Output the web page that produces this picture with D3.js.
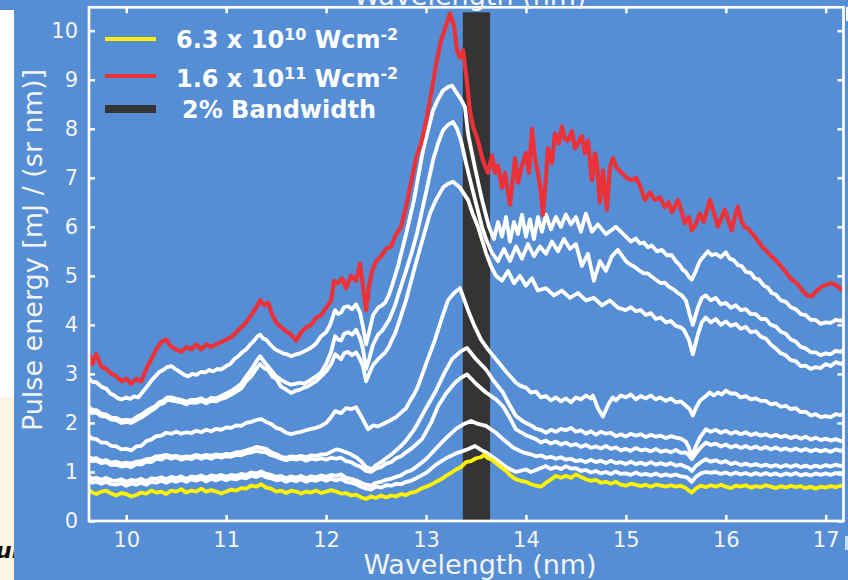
<!DOCTYPE html>
<html>
<head>
<meta charset="utf-8">
<script src="https://cdn.jsdelivr.net/npm/d3@7"></script>
<style>
  html, body { margin: 0; padding: 0; background: #558ED5; }
  svg { display: block; }
</style>
</head>
<body>
<svg id="chart" width="848" height="580"></svg>
<script>
// Harmonic spectra: [wavelength (nm), pulse energy mJ/(sr nm)]

// Lowest drive intensity, 6.3 x 10^10 W/cm^2
const spectrumLow = [[9.62,0.64],[9.66,0.58],[9.7,0.55],[9.75,0.6],[9.8,0.62],[9.85,0.56],[9.9,0.52],[9.95,0.57],[10.0,0.55],[10.05,0.5],[10.1,0.53],[10.15,0.58],[10.2,0.56],[10.25,0.62],[10.3,0.58],[10.35,0.6],[10.4,0.55],[10.45,0.62],[10.5,0.6],[10.55,0.65],[10.6,0.58],[10.65,0.62],[10.7,0.6],[10.75,0.66],[10.8,0.6],[10.85,0.63],[10.9,0.6],[10.95,0.56],[11.0,0.6],[11.05,0.64],[11.1,0.62],[11.15,0.67],[11.2,0.66],[11.25,0.72],[11.3,0.7],[11.35,0.75],[11.4,0.68],[11.45,0.66],[11.5,0.6],[11.55,0.62],[11.6,0.57],[11.65,0.62],[11.7,0.6],[11.75,0.56],[11.8,0.6],[11.85,0.58],[11.9,0.62],[11.95,0.57],[12.0,0.6],[12.05,0.63],[12.1,0.6],[12.15,0.56],[12.2,0.57],[12.25,0.52],[12.3,0.54],[12.35,0.48],[12.4,0.45],[12.45,0.5],[12.5,0.47],[12.55,0.52],[12.6,0.48],[12.65,0.52],[12.7,0.5],[12.75,0.55],[12.8,0.53],[12.85,0.58],[12.9,0.6],[12.95,0.66],[13.0,0.7],[13.05,0.74],[13.1,0.8],[13.15,0.85],[13.2,0.92],[13.25,0.98],[13.3,1.05],[13.35,1.1],[13.4,1.2],[13.45,1.22],[13.5,1.28],[13.55,1.3],[13.58,1.35],[13.62,1.28],[13.66,1.25],[13.7,1.18],[13.75,1.1],[13.8,1.02],[13.85,0.92],[13.9,0.85],[13.95,0.82],[14.0,0.8],[14.05,0.75],[14.1,0.72],[14.15,0.7],[14.2,0.78],[14.25,0.85],[14.3,0.92],[14.35,0.88],[14.4,0.92],[14.45,0.88],[14.5,0.95],[14.55,0.9],[14.6,0.85],[14.65,0.82],[14.7,0.84],[14.75,0.78],[14.8,0.8],[14.85,0.76],[14.9,0.8],[14.95,0.74],[15.0,0.72],[15.05,0.76],[15.1,0.74],[15.15,0.71],[15.2,0.74],[15.25,0.7],[15.3,0.74],[15.35,0.72],[15.4,0.7],[15.45,0.73],[15.5,0.7],[15.55,0.72],[15.6,0.67],[15.63,0.62],[15.66,0.58],[15.7,0.66],[15.75,0.72],[15.8,0.69],[15.85,0.73],[15.9,0.7],[15.95,0.74],[16.0,0.7],[16.05,0.67],[16.1,0.72],[16.15,0.7],[16.2,0.73],[16.25,0.68],[16.3,0.71],[16.35,0.69],[16.4,0.73],[16.45,0.7],[16.5,0.67],[16.55,0.71],[16.6,0.68],[16.65,0.72],[16.7,0.69],[16.75,0.71],[16.8,0.67],[16.85,0.7],[16.9,0.66],[16.95,0.7],[17.0,0.68],[17.05,0.71],[17.1,0.69],[17.15,0.72],[17.2,0.71]];

// Intermediate intensities, lowest first
const white1 = [[9.62,0.84],[9.66,0.78],[9.7,0.8],[9.75,0.76],[9.8,0.8],[9.85,0.75],[9.9,0.74],[9.95,0.77],[10.0,0.72],[10.05,0.76],[10.1,0.74],[10.15,0.78],[10.2,0.74],[10.25,0.8],[10.3,0.78],[10.35,0.82],[10.4,0.78],[10.45,0.83],[10.5,0.8],[10.55,0.84],[10.6,0.8],[10.65,0.85],[10.7,0.82],[10.75,0.86],[10.8,0.81],[10.85,0.86],[10.9,0.83],[10.95,0.87],[11.0,0.83],[11.05,0.87],[11.1,0.85],[11.15,0.89],[11.2,0.87],[11.25,0.92],[11.3,0.9],[11.35,0.94],[11.4,0.89],[11.45,0.87],[11.5,0.83],[11.55,0.85],[11.6,0.8],[11.65,0.84],[11.7,0.81],[11.75,0.85],[11.8,0.8],[11.85,0.84],[11.9,0.82],[11.95,0.86],[12.0,0.82],[12.05,0.86],[12.1,0.83],[12.15,0.86],[12.2,0.8],[12.25,0.78],[12.3,0.75],[12.35,0.7],[12.4,0.66],[12.45,0.64],[12.5,0.7],[12.55,0.68],[12.6,0.73],[12.65,0.72],[12.7,0.76],[12.75,0.75],[12.8,0.8],[12.85,0.82],[12.9,0.87],[13.0,0.98],[13.1,1.15],[13.2,1.28],[13.3,1.38],[13.4,1.45],[13.49,1.53],[13.55,1.45],[13.6,1.4],[13.7,1.26],[13.8,1.1],[13.9,1.0],[14.0,1.05],[14.05,1.0],[14.1,1.04],[14.15,1.08],[14.2,1.12],[14.25,1.06],[14.3,1.1],[14.35,1.06],[14.4,1.12],[14.45,1.07],[14.5,1.08],[14.55,1.02],[14.6,1.04],[14.65,0.99],[14.7,1.02],[14.75,0.97],[14.8,1.0],[14.85,0.96],[14.9,1.01],[14.95,0.96],[15.0,0.97],[15.05,0.94],[15.1,0.99],[15.15,0.94],[15.2,0.96],[15.25,0.93],[15.3,0.97],[15.35,0.92],[15.4,0.95],[15.45,0.92],[15.5,0.95],[15.55,0.91],[15.6,0.9],[15.63,0.86],[15.66,0.8],[15.7,0.9],[15.75,0.97],[15.8,1.0],[15.85,0.98],[15.9,1.0],[15.95,0.96],[16.0,0.99],[16.05,0.95],[16.1,0.99],[16.15,0.95],[16.2,0.98],[16.25,0.94],[16.3,0.98],[16.35,0.94],[16.4,0.98],[16.45,0.94],[16.5,0.97],[16.55,0.93],[16.6,0.97],[16.65,0.94],[16.7,0.98],[16.75,0.93],[16.8,0.96],[16.85,0.93],[16.9,0.97],[16.95,0.94],[17.0,0.97],[17.05,0.94],[17.1,0.98],[17.15,0.95],[17.2,0.99]];
const white2 = [[9.62,0.92],[9.66,0.86],[9.7,0.88],[9.75,0.84],[9.8,0.88],[9.85,0.83],[9.9,0.82],[9.95,0.85],[10.0,0.8],[10.05,0.84],[10.1,0.82],[10.15,0.86],[10.2,0.81],[10.25,0.87],[10.3,0.86],[10.35,0.89],[10.4,0.85],[10.45,0.9],[10.5,0.87],[10.55,0.91],[10.6,0.86],[10.65,0.91],[10.7,0.89],[10.75,0.93],[10.8,0.88],[10.85,0.93],[10.9,0.91],[10.95,0.94],[11.0,0.9],[11.05,0.94],[11.1,0.92],[11.15,0.96],[11.2,0.94],[11.25,0.99],[11.3,0.97],[11.35,1.01],[11.4,0.96],[11.45,0.94],[11.5,0.9],[11.55,0.92],[11.6,0.87],[11.65,0.91],[11.7,0.88],[11.75,0.92],[11.8,0.87],[11.85,0.91],[11.9,0.89],[11.95,0.93],[12.0,0.9],[12.05,0.94],[12.1,0.92],[12.15,0.95],[12.2,0.88],[12.25,0.86],[12.3,0.83],[12.35,0.78],[12.4,0.74],[12.45,0.72],[12.5,0.78],[12.55,0.8],[12.6,0.84],[12.65,0.86],[12.7,0.9],[12.75,0.93],[12.8,1.0],[12.85,1.03],[12.9,1.1],[13.0,1.26],[13.1,1.48],[13.19,1.67],[13.3,1.88],[13.38,1.98],[13.45,2.04],[13.52,1.98],[13.6,1.94],[13.7,1.8],[13.77,1.67],[13.87,1.5],[13.97,1.4],[14.05,1.36],[14.1,1.32],[14.15,1.34],[14.2,1.29],[14.25,1.31],[14.3,1.27],[14.35,1.3],[14.4,1.25],[14.45,1.27],[14.5,1.22],[14.55,1.24],[14.6,1.2],[14.65,1.25],[14.7,1.2],[14.75,1.23],[14.8,1.18],[14.85,1.23],[14.9,1.18],[14.95,1.2],[15.0,1.16],[15.05,1.21],[15.1,1.16],[15.15,1.19],[15.2,1.15],[15.25,1.2],[15.3,1.15],[15.35,1.18],[15.4,1.14],[15.45,1.18],[15.5,1.13],[15.55,1.15],[15.6,1.1],[15.63,1.08],[15.66,1.02],[15.7,1.12],[15.75,1.2],[15.8,1.26],[15.85,1.21],[15.9,1.24],[15.95,1.19],[16.0,1.22],[16.05,1.16],[16.1,1.19],[16.15,1.14],[16.2,1.17],[16.25,1.13],[16.3,1.16],[16.35,1.12],[16.4,1.15],[16.45,1.11],[16.5,1.14],[16.55,1.1],[16.6,1.14],[16.65,1.1],[16.7,1.14],[16.75,1.1],[16.8,1.13],[16.85,1.09],[16.9,1.13],[16.95,1.1],[17.0,1.14],[17.05,1.11],[17.1,1.15],[17.15,1.12],[17.2,1.16]];
const white3 = [[9.62,1.28],[9.66,1.22],[9.7,1.23],[9.75,1.18],[9.8,1.2],[9.85,1.14],[9.9,1.15],[9.95,1.11],[10.0,1.13],[10.05,1.1],[10.1,1.16],[10.15,1.15],[10.2,1.21],[10.25,1.2],[10.3,1.27],[10.35,1.25],[10.4,1.31],[10.45,1.27],[10.5,1.3],[10.55,1.25],[10.6,1.28],[10.65,1.26],[10.7,1.31],[10.75,1.27],[10.8,1.3],[10.85,1.27],[10.9,1.32],[10.95,1.29],[11.0,1.32],[11.05,1.31],[11.1,1.35],[11.15,1.34],[11.2,1.38],[11.25,1.4],[11.3,1.43],[11.35,1.41],[11.4,1.4],[11.45,1.34],[11.5,1.31],[11.55,1.27],[11.6,1.24],[11.65,1.27],[11.7,1.25],[11.75,1.28],[11.8,1.23],[11.85,1.27],[11.9,1.25],[11.95,1.28],[12.0,1.25],[12.05,1.29],[12.1,1.27],[12.15,1.29],[12.2,1.22],[12.25,1.2],[12.3,1.14],[12.35,1.1],[12.4,1.02],[12.45,1.0],[12.5,1.07],[12.55,1.1],[12.6,1.17],[12.65,1.2],[12.7,1.28],[12.75,1.32],[12.8,1.4],[12.85,1.47],[12.9,1.56],[12.96,1.67],[13.05,2.0],[13.12,2.34],[13.2,2.6],[13.29,2.82],[13.35,2.92],[13.41,2.99],[13.5,2.8],[13.6,2.62],[13.7,2.48],[13.77,2.34],[13.84,2.1],[13.9,1.87],[14.0,1.75],[14.1,1.67],[14.15,1.6],[14.2,1.64],[14.25,1.58],[14.3,1.62],[14.35,1.56],[14.4,1.6],[14.45,1.54],[14.5,1.57],[14.55,1.51],[14.6,1.55],[14.65,1.49],[14.7,1.52],[14.75,1.48],[14.8,1.53],[14.85,1.47],[14.9,1.5],[14.95,1.44],[15.0,1.47],[15.05,1.43],[15.1,1.49],[15.15,1.44],[15.2,1.46],[15.25,1.42],[15.3,1.47],[15.35,1.41],[15.4,1.44],[15.45,1.4],[15.5,1.45],[15.55,1.39],[15.6,1.4],[15.63,1.34],[15.66,1.26],[15.7,1.38],[15.75,1.5],[15.8,1.6],[15.85,1.55],[15.9,1.58],[15.95,1.52],[16.0,1.56],[16.05,1.5],[16.1,1.54],[16.15,1.49],[16.2,1.53],[16.25,1.48],[16.3,1.52],[16.35,1.47],[16.4,1.51],[16.45,1.46],[16.5,1.5],[16.55,1.45],[16.6,1.48],[16.65,1.44],[16.7,1.48],[16.75,1.43],[16.8,1.47],[16.85,1.42],[16.9,1.46],[16.95,1.42],[17.0,1.45],[17.05,1.41],[17.1,1.46],[17.15,1.43],[17.2,1.47]];
const white4 = [[9.62,1.31],[9.66,1.27],[9.7,1.28],[9.75,1.22],[9.8,1.24],[9.85,1.19],[9.9,1.21],[9.95,1.17],[10.0,1.19],[10.05,1.17],[10.1,1.21],[10.15,1.22],[10.2,1.26],[10.25,1.27],[10.3,1.32],[10.35,1.33],[10.4,1.35],[10.45,1.32],[10.5,1.33],[10.55,1.3],[10.6,1.32],[10.65,1.31],[10.7,1.35],[10.75,1.32],[10.8,1.35],[10.85,1.33],[10.9,1.36],[10.95,1.34],[11.0,1.37],[11.05,1.36],[11.1,1.4],[11.15,1.41],[11.2,1.44],[11.25,1.47],[11.3,1.51],[11.35,1.49],[11.4,1.47],[11.45,1.4],[11.5,1.36],[11.55,1.31],[11.6,1.29],[11.65,1.32],[11.7,1.31],[11.75,1.33],[11.8,1.3],[11.85,1.34],[11.9,1.33],[11.95,1.36],[12.0,1.36],[12.05,1.41],[12.1,1.46],[12.15,1.44],[12.2,1.4],[12.25,1.36],[12.3,1.3],[12.35,1.22],[12.4,1.1],[12.46,1.06],[12.5,1.14],[12.55,1.2],[12.6,1.28],[12.65,1.35],[12.7,1.44],[12.75,1.53],[12.8,1.64],[12.84,1.75],[12.88,1.86],[12.92,2.0],[13.0,2.3],[13.09,2.62],[13.18,3.0],[13.26,3.3],[13.34,3.45],[13.41,3.53],[13.5,3.3],[13.6,3.09],[13.68,2.85],[13.77,2.62],[13.84,2.35],[13.9,2.14],[13.98,2.02],[14.06,1.94],[14.1,1.88],[14.15,1.86],[14.2,1.8],[14.25,1.86],[14.3,1.82],[14.35,1.88],[14.4,1.85],[14.45,1.9],[14.5,1.82],[14.55,1.85],[14.6,1.78],[14.65,1.83],[14.7,1.76],[14.75,1.82],[14.8,1.78],[14.85,1.8],[14.9,1.73],[14.95,1.77],[15.0,1.72],[15.05,1.78],[15.1,1.74],[15.15,1.77],[15.2,1.71],[15.25,1.76],[15.3,1.72],[15.35,1.74],[15.4,1.69],[15.45,1.73],[15.5,1.7],[15.55,1.68],[15.6,1.62],[15.63,1.5],[15.66,1.32],[15.7,1.52],[15.74,1.7],[15.8,1.87],[15.85,1.82],[15.9,1.86],[15.95,1.8],[16.0,1.84],[16.05,1.78],[16.1,1.82],[16.15,1.77],[16.2,1.81],[16.25,1.75],[16.3,1.79],[16.35,1.74],[16.4,1.77],[16.45,1.72],[16.5,1.76],[16.55,1.71],[16.6,1.74],[16.65,1.69],[16.7,1.73],[16.75,1.68],[16.8,1.72],[16.85,1.66],[16.9,1.7],[16.95,1.65],[17.0,1.68],[17.05,1.64],[17.1,1.67],[17.15,1.63],[17.2,1.66]];
const white5 = [[9.62,1.74],[9.66,1.68],[9.7,1.67],[9.75,1.6],[9.8,1.6],[9.85,1.53],[9.9,1.52],[9.95,1.46],[10.0,1.47],[10.05,1.44],[10.1,1.52],[10.15,1.53],[10.2,1.63],[10.25,1.66],[10.3,1.73],[10.35,1.74],[10.4,1.8],[10.45,1.78],[10.5,1.82],[10.55,1.78],[10.6,1.81],[10.65,1.79],[10.7,1.84],[10.75,1.81],[10.8,1.86],[10.85,1.83],[10.9,1.88],[10.95,1.86],[11.0,1.91],[11.05,1.9],[11.1,1.95],[11.15,1.94],[11.2,2.0],[11.25,2.02],[11.3,2.06],[11.35,2.08],[11.4,2.02],[11.45,1.98],[11.5,1.9],[11.55,1.87],[11.6,1.8],[11.65,1.77],[11.7,1.8],[11.75,1.82],[11.8,1.85],[11.85,1.88],[11.9,1.9],[11.95,1.94],[12.0,2.0],[12.05,2.12],[12.09,2.24],[12.15,2.2],[12.2,2.3],[12.25,2.28],[12.3,2.32],[12.36,2.1],[12.42,1.87],[12.47,1.95],[12.52,1.93],[12.59,2.0],[12.64,2.05],[12.7,2.12],[12.75,2.21],[12.8,2.3],[12.84,2.45],[12.88,2.58],[12.92,2.75],[13.0,3.2],[13.09,3.7],[13.16,4.15],[13.22,4.5],[13.28,4.65],[13.34,4.75],[13.42,4.3],[13.48,4.0],[13.55,3.7],[13.62,3.5],[13.7,3.3],[13.8,3.05],[13.9,2.82],[13.95,2.75],[14.0,2.72],[14.05,2.62],[14.1,2.64],[14.15,2.52],[14.2,2.55],[14.25,2.46],[14.3,2.52],[14.35,2.44],[14.4,2.5],[14.45,2.42],[14.5,2.52],[14.55,2.48],[14.6,2.56],[14.65,2.5],[14.67,2.56],[14.72,2.3],[14.77,2.13],[14.83,2.4],[14.87,2.52],[14.9,2.46],[14.95,2.56],[15.0,2.52],[15.05,2.58],[15.1,2.48],[15.15,2.55],[15.2,2.5],[15.25,2.56],[15.3,2.48],[15.34,2.52],[15.4,2.45],[15.45,2.5],[15.5,2.42],[15.55,2.44],[15.6,2.35],[15.64,2.28],[15.67,2.15],[15.7,2.3],[15.74,2.45],[15.8,2.55],[15.84,2.62],[15.88,2.56],[15.92,2.62],[15.96,2.58],[16.0,2.66],[16.05,2.6],[16.1,2.6],[16.15,2.52],[16.2,2.55],[16.25,2.48],[16.3,2.5],[16.35,2.45],[16.4,2.45],[16.45,2.38],[16.5,2.4],[16.55,2.33],[16.6,2.35],[16.65,2.28],[16.7,2.3],[16.75,2.22],[16.8,2.23],[16.85,2.15],[16.9,2.18],[16.95,2.12],[17.0,2.14],[17.05,2.12],[17.1,2.18],[17.15,2.16],[17.2,2.22]];
const white6 = [[9.62,2.28],[9.66,2.2],[9.7,2.21],[9.75,2.14],[9.8,2.13],[9.85,2.07],[9.9,2.06],[9.95,2.0],[10.0,2.02],[10.05,2.0],[10.12,2.08],[10.16,2.12],[10.2,2.18],[10.25,2.25],[10.29,2.3],[10.33,2.38],[10.37,2.4],[10.41,2.47],[10.45,2.46],[10.5,2.44],[10.55,2.42],[10.6,2.38],[10.65,2.42],[10.7,2.41],[10.75,2.45],[10.8,2.4],[10.85,2.45],[10.9,2.44],[10.95,2.49],[11.0,2.52],[11.05,2.58],[11.1,2.64],[11.15,2.7],[11.2,2.85],[11.25,2.95],[11.3,3.1],[11.34,3.2],[11.38,3.12],[11.42,3.08],[11.46,2.95],[11.5,2.9],[11.55,2.74],[11.6,2.68],[11.65,2.61],[11.7,2.66],[11.74,2.68],[11.78,2.72],[11.82,2.75],[11.86,2.8],[11.9,2.85],[11.95,2.95],[12.0,3.05],[12.05,3.2],[12.09,3.4],[12.12,3.35],[12.15,3.3],[12.18,3.42],[12.22,3.45],[12.26,3.38],[12.3,3.44],[12.34,3.3],[12.37,3.15],[12.4,2.85],[12.43,3.0],[12.47,3.18],[12.52,3.3],[12.56,3.38],[12.59,3.43],[12.63,3.56],[12.66,3.7],[12.69,3.82],[12.72,4.0],[12.8,4.5],[12.88,5.12],[12.96,5.7],[13.04,6.27],[13.1,6.55],[13.17,6.8],[13.22,6.88],[13.27,6.92],[13.34,6.8],[13.42,6.55],[13.47,6.25],[13.52,6.0],[13.6,5.47],[13.65,5.2],[13.7,5.0],[13.76,4.9],[13.82,5.1],[13.88,4.85],[13.94,5.0],[14.0,4.8],[14.06,4.95],[14.12,4.7],[14.2,4.75],[14.28,4.6],[14.36,4.7],[14.44,4.55],[14.52,4.65],[14.6,4.5],[14.68,4.55],[14.76,4.4],[14.84,4.5],[14.92,4.35],[15.0,4.3],[15.05,4.36],[15.1,4.28],[15.15,4.3],[15.2,4.2],[15.25,4.24],[15.3,4.12],[15.35,4.15],[15.4,4.05],[15.45,4.08],[15.5,3.98],[15.55,3.95],[15.58,3.9],[15.63,3.7],[15.67,3.4],[15.72,3.8],[15.76,4.05],[15.8,4.15],[15.85,4.05],[15.9,4.12],[15.95,4.0],[16.0,4.07],[16.05,3.98],[16.1,4.02],[16.15,3.92],[16.2,3.96],[16.25,3.85],[16.3,3.87],[16.35,3.76],[16.4,3.72],[16.45,3.6],[16.5,3.52],[16.55,3.42],[16.6,3.38],[16.65,3.28],[16.7,3.26],[16.75,3.16],[16.8,3.17],[16.85,3.1],[16.9,3.14],[16.95,3.12],[17.0,3.2],[17.05,3.16],[17.1,3.24],[17.15,3.2],[17.2,3.27]];
const white7 = [[9.62,2.34],[9.66,2.26],[9.7,2.26],[9.75,2.19],[9.8,2.17],[9.85,2.11],[9.9,2.1],[9.95,2.05],[10.0,2.06],[10.05,2.05],[10.12,2.14],[10.16,2.18],[10.2,2.24],[10.25,2.3],[10.29,2.34],[10.33,2.42],[10.37,2.45],[10.41,2.52],[10.45,2.52],[10.5,2.49],[10.55,2.47],[10.6,2.43],[10.65,2.47],[10.7,2.47],[10.75,2.5],[10.8,2.45],[10.85,2.51],[10.9,2.5],[10.95,2.55],[11.0,2.6],[11.05,2.65],[11.1,2.72],[11.15,2.8],[11.2,2.95],[11.25,3.08],[11.3,3.25],[11.34,3.36],[11.38,3.25],[11.42,3.15],[11.46,3.05],[11.5,2.95],[11.55,2.88],[11.6,2.82],[11.65,2.78],[11.7,2.8],[11.74,2.82],[11.78,2.8],[11.82,2.85],[11.86,2.9],[11.9,2.95],[11.95,3.03],[12.0,3.2],[12.05,3.45],[12.09,3.77],[12.12,3.7],[12.15,3.68],[12.18,3.82],[12.22,3.85],[12.26,3.8],[12.3,3.9],[12.34,3.72],[12.37,3.5],[12.4,3.1],[12.43,3.3],[12.47,3.6],[12.52,3.8],[12.56,3.88],[12.59,3.97],[12.63,4.1],[12.66,4.25],[12.69,4.4],[12.72,4.6],[12.8,5.1],[12.86,5.5],[12.91,5.87],[13.0,6.7],[13.07,7.36],[13.12,7.7],[13.17,7.97],[13.22,8.08],[13.27,8.14],[13.31,8.0],[13.35,7.76],[13.4,7.3],[13.46,6.8],[13.51,6.4],[13.56,6.0],[13.61,5.7],[13.66,5.47],[13.72,5.3],[13.78,5.55],[13.84,5.3],[13.9,5.6],[13.96,5.35],[14.02,5.65],[14.08,5.4],[14.14,5.6],[14.2,5.45],[14.26,5.7],[14.32,5.5],[14.38,5.75],[14.44,5.55],[14.5,5.65],[14.56,5.2],[14.62,5.45],[14.68,4.9],[14.74,5.3],[14.8,5.1],[14.86,5.4],[14.92,5.53],[15.0,5.3],[15.05,5.22],[15.09,5.18],[15.14,5.1],[15.18,5.05],[15.22,5.05],[15.26,4.98],[15.3,4.92],[15.35,4.85],[15.39,4.86],[15.43,4.78],[15.48,4.72],[15.52,4.65],[15.56,4.6],[15.6,4.5],[15.64,4.2],[15.67,4.0],[15.72,4.35],[15.76,4.55],[15.8,4.6],[15.85,4.5],[15.9,4.55],[15.95,4.42],[16.0,4.45],[16.05,4.35],[16.1,4.4],[16.15,4.3],[16.2,4.32],[16.25,4.22],[16.3,4.22],[16.35,4.12],[16.4,4.12],[16.45,4.0],[16.5,3.97],[16.55,3.86],[16.6,3.82],[16.65,3.7],[16.7,3.66],[16.75,3.55],[16.8,3.52],[16.85,3.44],[16.9,3.44],[16.95,3.38],[17.0,3.42],[17.05,3.4],[17.1,3.47],[17.15,3.45],[17.2,3.52]];
const white8 = [[9.62,2.92],[9.66,2.84],[9.7,2.83],[9.75,2.74],[9.8,2.7],[9.84,2.6],[9.88,2.56],[9.92,2.5],[9.95,2.48],[10.0,2.52],[10.04,2.49],[10.08,2.54],[10.12,2.52],[10.16,2.62],[10.2,2.72],[10.25,2.86],[10.29,2.95],[10.33,3.04],[10.37,3.08],[10.41,3.14],[10.45,3.16],[10.49,3.1],[10.53,3.05],[10.58,2.98],[10.62,2.95],[10.66,3.0],[10.7,2.98],[10.75,3.04],[10.79,3.03],[10.83,3.08],[10.87,3.05],[10.91,3.1],[10.95,3.09],[11.0,3.16],[11.04,3.2],[11.08,3.3],[11.12,3.36],[11.16,3.44],[11.2,3.5],[11.24,3.6],[11.28,3.68],[11.31,3.76],[11.34,3.8],[11.37,3.72],[11.4,3.7],[11.44,3.6],[11.49,3.5],[11.53,3.46],[11.57,3.42],[11.61,3.4],[11.65,3.36],[11.7,3.4],[11.74,3.42],[11.78,3.46],[11.82,3.5],[11.86,3.55],[11.9,3.62],[11.95,3.77],[12.0,3.85],[12.04,4.0],[12.09,4.3],[12.12,4.22],[12.15,4.25],[12.18,4.36],[12.22,4.38],[12.26,4.32],[12.3,4.42],[12.34,4.25],[12.37,3.95],[12.4,3.6],[12.43,3.85],[12.47,4.2],[12.52,4.35],[12.56,4.4],[12.59,4.45],[12.63,4.62],[12.66,4.8],[12.69,5.0],[12.72,5.2],[12.8,5.85],[12.88,6.55],[12.97,7.56],[13.07,8.37],[13.12,8.6],[13.17,8.78],[13.22,8.85],[13.26,8.88],[13.3,8.75],[13.35,8.6],[13.39,8.44],[13.42,7.9],[13.49,7.2],[13.56,6.55],[13.63,6.0],[13.68,5.75],[13.72,6.1],[13.76,5.8],[13.8,6.2],[13.84,5.7],[13.88,6.1],[13.92,5.85],[13.96,6.25],[14.0,5.8],[14.04,6.15],[14.08,5.75],[14.12,6.2],[14.16,5.9],[14.2,6.25],[14.25,5.95],[14.3,6.2],[14.35,6.0],[14.4,6.25],[14.45,6.05],[14.5,6.2],[14.55,5.9],[14.6,6.27],[14.66,5.9],[14.72,6.05],[14.8,5.85],[14.9,6.0],[15.0,5.8],[15.05,5.7],[15.1,5.76],[15.14,5.66],[15.18,5.68],[15.22,5.58],[15.26,5.62],[15.31,5.5],[15.36,5.53],[15.41,5.42],[15.46,5.42],[15.5,5.3],[15.54,5.22],[15.57,5.12],[15.6,5.08],[15.63,4.98],[15.66,4.92],[15.7,5.1],[15.74,5.3],[15.78,5.4],[15.82,5.5],[15.86,5.42],[15.9,5.45],[15.95,5.38],[16.0,5.48],[16.04,5.35],[16.08,5.32],[16.12,5.22],[16.16,5.2],[16.2,5.08],[16.25,5.06],[16.29,4.95],[16.33,4.93],[16.38,4.8],[16.42,4.76],[16.46,4.65],[16.5,4.62],[16.55,4.5],[16.6,4.47],[16.65,4.36],[16.7,4.32],[16.75,4.22],[16.8,4.2],[16.85,4.1],[16.9,4.1],[16.95,4.02],[17.0,4.05],[17.05,4.04],[17.1,4.1],[17.15,4.08],[17.2,4.14]];

// Highest drive intensity, 1.6 x 10^11 W/cm^2
const spectrumHigh = [[9.62,3.45],[9.66,3.2],[9.7,3.4],[9.75,3.15],[9.8,3.1],[9.85,3.0],[9.9,2.95],[9.95,2.85],[10.0,2.9],[10.05,2.8],[10.1,2.9],[10.15,2.85],[10.2,3.1],[10.25,3.3],[10.3,3.5],[10.35,3.65],[10.4,3.7],[10.45,3.55],[10.5,3.5],[10.55,3.45],[10.6,3.55],[10.65,3.5],[10.7,3.6],[10.75,3.5],[10.8,3.6],[10.85,3.55],[10.9,3.6],[10.95,3.65],[11.0,3.7],[11.05,3.75],[11.1,3.85],[11.15,3.95],[11.2,4.05],[11.25,4.2],[11.3,4.35],[11.34,4.5],[11.38,4.4],[11.42,4.45],[11.46,4.2],[11.5,4.05],[11.55,3.95],[11.6,3.87],[11.65,3.8],[11.7,3.68],[11.75,3.85],[11.8,3.95],[11.85,4.0],[11.9,4.15],[11.95,4.2],[12.0,4.35],[12.05,4.5],[12.08,4.9],[12.12,4.85],[12.16,4.95],[12.2,4.75],[12.25,5.0],[12.3,4.9],[12.34,5.25],[12.38,4.6],[12.4,4.3],[12.43,4.8],[12.46,5.1],[12.5,5.3],[12.55,5.4],[12.6,5.55],[12.65,5.6],[12.7,5.85],[12.75,6.0],[12.8,6.4],[12.85,6.9],[12.9,7.4],[12.95,7.7],[13.0,8.15],[13.05,8.7],[13.1,9.3],[13.15,9.8],[13.2,10.1],[13.24,10.35],[13.28,10.1],[13.31,9.6],[13.34,9.45],[13.37,9.6],[13.41,8.95],[13.44,8.35],[13.47,8.05],[13.52,7.75],[13.57,7.35],[13.62,7.1],[13.66,7.45],[13.69,7.1],[13.72,7.25],[13.76,6.8],[13.79,7.1],[13.82,6.7],[13.84,6.45],[13.87,7.0],[13.89,7.4],[13.92,6.9],[13.96,7.25],[14.0,7.5],[14.03,7.1],[14.06,8.0],[14.09,7.4],[14.12,7.1],[14.15,6.7],[14.17,6.25],[14.2,7.0],[14.22,7.6],[14.26,7.3],[14.29,7.9],[14.33,7.7],[14.36,8.05],[14.39,7.8],[14.42,7.75],[14.46,7.95],[14.49,7.6],[14.52,7.7],[14.56,7.85],[14.59,7.5],[14.62,7.75],[14.66,6.95],[14.69,7.5],[14.71,7.3],[14.74,6.5],[14.77,7.15],[14.81,6.35],[14.84,7.2],[14.87,7.4],[14.91,7.2],[14.96,7.1],[15.01,7.0],[15.06,6.95],[15.1,7.0],[15.14,6.85],[15.19,6.55],[15.24,6.7],[15.29,6.55],[15.34,6.6],[15.39,6.4],[15.43,6.5],[15.46,6.3],[15.5,6.45],[15.52,6.55],[15.56,6.3],[15.59,6.07],[15.63,6.2],[15.66,5.93],[15.7,6.05],[15.74,6.27],[15.78,6.1],[15.82,6.4],[15.84,6.55],[15.88,6.3],[15.92,6.0],[15.96,6.2],[15.99,6.35],[16.03,6.1],[16.06,5.93],[16.09,6.2],[16.12,6.41],[16.16,6.1],[16.19,6.0],[16.23,5.95],[16.26,5.87],[16.31,5.75],[16.36,5.6],[16.41,5.5],[16.46,5.39],[16.51,5.3],[16.56,5.18],[16.61,5.05],[16.66,4.92],[16.71,4.85],[16.76,4.72],[16.81,4.6],[16.86,4.58],[16.91,4.7],[16.96,4.78],[17.01,4.82],[17.06,4.85],[17.11,4.8],[17.16,4.72],[17.2,4.75]];

const whiteSpectra = [white1, white2, white3, white4, white5, white6, white7, white8];

// 2 % bandwidth window around 13.5 nm
const bandwidthRange = [13.368, 13.641];
const bandwidthTop = 10.375;

const xTicks = [10, 11, 12, 13, 14, 15, 16, 17];
const yTicks = [0, 1, 2, 3, 4, 5, 6, 7, 8, 9, 10];
const xTitle = "Wavelength (nm)";
const yTitle = "Pulse energy [mJ / (sr nm)]";

const COLORS = { bg: "#558ED5", low: "#FFF200", high: "#EC3238", white: "#FFFFFF", band: "#343434", text: "#F4F4F4" };

const svg = d3.select("#chart");
const frame = { left: 89, right: 843.5, top: 7.3, bottom: 521 };

const x = d3.scaleLinear().domain([9.627, 17.178]).range([frame.left, frame.right]);
const y = d3.scaleLinear().domain([0, 10.477]).range([frame.bottom, frame.top]);

// page background and the edges of neighbouring slide elements
svg.append("rect").attr("width", 848).attr("height", 580).attr("fill", COLORS.bg);
svg.append("rect").attr("x", 0).attr("y", 10).attr("width", 14).attr("height", 387).attr("fill", "#FFFFFF");
svg.append("rect").attr("x", 0).attr("y", 397).attr("width", 14).attr("height", 183).attr("fill", "#FDF6E4");
const defs = svg.append("defs");
defs.append("clipPath").attr("id", "leftStrip")
  .append("rect").attr("x", 0).attr("y", 397).attr("width", 14).attr("height", 183);
svg.append("text").attr("clip-path", "url(#leftStrip)")
  .attr("x", -4).attr("y", 558)
  .attr("font-family", "DejaVu Sans, sans-serif").attr("font-size", 22)
  .attr("font-style", "italic").attr("font-weight", "bold").attr("fill", "#111")
  .text("ul");
svg.append("rect").attr("x", 846).attr("y", 7).attr("width", 2).attr("height", 14).attr("fill", "#FFFFFF");
svg.append("rect").attr("x", 845).attr("y", 536).attr("width", 3).attr("height", 14).attr("fill", "#BFE3F5");

// plot clip
defs.append("clipPath").attr("id", "plotClip")
  .append("rect").attr("x", frame.left).attr("y", frame.top)
  .attr("width", frame.right - frame.left).attr("height", frame.bottom - frame.top);

const plot = svg.append("g").attr("clip-path", "url(#plotClip)");

// bandwidth window
plot.append("rect")
  .attr("x", x(bandwidthRange[0]))
  .attr("width", x(bandwidthRange[1]) - x(bandwidthRange[0]))
  .attr("y", y(bandwidthTop))
  .attr("height", y(0) - y(bandwidthTop))
  .attr("fill", COLORS.band);

const line = d3.line().x(d => x(d[0])).y(d => y(d[1]));

plot.selectAll("path.mid").data(whiteSpectra).join("path")
  .attr("class", "mid")
  .attr("d", line)
  .attr("fill", "none").attr("stroke", COLORS.white)
  .attr("stroke-width", 3.8).attr("stroke-linejoin", "round");

plot.append("path").datum(spectrumHigh).attr("d", line)
  .attr("fill", "none").attr("stroke", COLORS.high)
  .attr("stroke-width", 4.2).attr("stroke-linejoin", "round");

plot.append("path").datum(spectrumLow).attr("d", line)
  .attr("fill", "none").attr("stroke", COLORS.low)
  .attr("stroke-width", 3.8).attr("stroke-linejoin", "round");

// axes with inward ticks on all four sides
const FONT = "DejaVu Sans, Verdana, sans-serif";
function styleAxis(g) {
  g.select(".domain").remove();
  g.selectAll(".tick line").attr("stroke", COLORS.white).attr("stroke-width", 2.5);
  g.selectAll(".tick text").attr("fill", COLORS.text).attr("font-family", FONT).attr("font-size", 21);
}

svg.append("g").attr("transform", `translate(0,${frame.bottom})`)
  .call(d3.axisBottom(x).tickValues(xTicks).tickSizeInner(-6).tickSizeOuter(0).tickPadding(11).tickFormat(d3.format("d")))
  .call(styleAxis);
svg.append("g").attr("transform", `translate(0,${frame.top})`)
  .call(d3.axisTop(x).tickValues(xTicks).tickSizeInner(-6).tickSizeOuter(0).tickFormat(""))
  .call(styleAxis);
svg.append("g").attr("transform", `translate(${frame.left},0)`)
  .call(d3.axisLeft(y).tickValues(yTicks).tickSizeInner(-6).tickSizeOuter(0).tickPadding(11).tickFormat(d3.format("d")))
  .call(styleAxis);
svg.append("g").attr("transform", `translate(${frame.right},0)`)
  .call(d3.axisRight(y).tickValues(yTicks).tickSizeInner(-6).tickSizeOuter(0).tickFormat(""))
  .call(styleAxis);

// frame
svg.append("rect")
  .attr("x", frame.left).attr("y", frame.top)
  .attr("width", frame.right - frame.left).attr("height", frame.bottom - frame.top)
  .attr("fill", "none").attr("stroke", COLORS.white).attr("stroke-width", 2.7);

// axis titles (the x title is repeated, cut off, along the top edge)
svg.append("text").attr("x", 480).attr("y", 574).attr("text-anchor", "middle")
  .attr("font-family", FONT).attr("font-size", 27).attr("fill", COLORS.text).text(xTitle);
svg.append("text").attr("x", 470).attr("y", 5).attr("text-anchor", "middle")
  .attr("font-family", FONT).attr("font-size", 27).attr("fill", COLORS.text).text(xTitle);
svg.append("text").attr("transform", "translate(42,250) rotate(-90)").attr("text-anchor", "middle")
  .attr("font-family", FONT).attr("font-size", 27).attr("fill", COLORS.text).text(yTitle);

// legend
const legend = svg.append("g").attr("font-family", FONT).attr("font-weight", "bold").attr("fill", COLORS.white);
const legendItems = [
  { color: COLORS.low, width: 4, y: 39, base: "6.3 x 10", exp1: "10", unit: " Wcm", exp2: "-2", textX: 176, textY: 48 },
  { color: COLORS.high, width: 4, y: 76, base: "1.6 x 10", exp1: "11", unit: " Wcm", exp2: "-2", textX: 176, textY: 87 },
  { color: COLORS.band, width: 8, y: 109, base: "2% Bandwidth", textX: 182, textY: 118 }
];
legendItems.forEach(it => {
  legend.append("line").attr("x1", 105).attr("x2", 156).attr("y1", it.y).attr("y2", it.y)
    .attr("stroke", it.color).attr("stroke-width", it.width);
  const t = legend.append("text").attr("x", it.textX).attr("y", it.textY).attr("font-size", 24);
  t.append("tspan").text(it.base);
  if (it.exp1) {
    t.append("tspan").attr("font-size", 16).attr("dy", -8).text(it.exp1);
    t.append("tspan").attr("font-size", 24).attr("dy", 8).text(it.unit);
    t.append("tspan").attr("font-size", 16).attr("dy", -8).text(it.exp2);
  }
});
</script>
</body>
</html>
